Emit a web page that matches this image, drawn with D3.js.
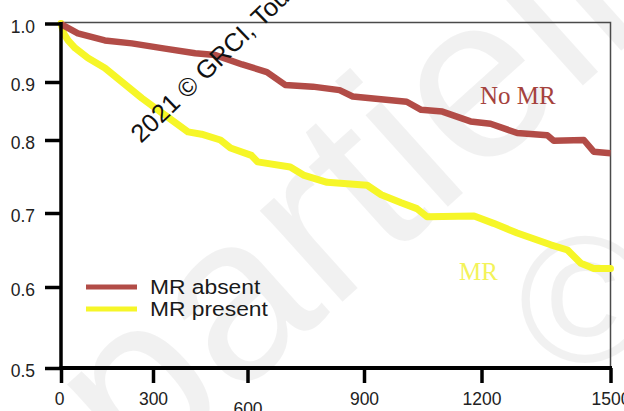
<!DOCTYPE html>
<html>
<head>
<meta charset="utf-8">
<script src="https://cdn.jsdelivr.net/npm/d3@7"></script>
<style>
  html, body { margin: 0; padding: 0; background: #fff; }
  svg { display: block; }
</style>
</head>
<body>
<svg id="chart" width="624" height="411"></svg>
<script>
// Kaplan–Meier style survival curves (time in days)
const xTicks = [0, 300, 600, 900, 1200, 1500];
const yTicks = [0.5, 0.6, 0.7, 0.8, 0.9, 1.0];

const timeNoMR = [0, 55, 143, 231, 338, 434, 498, 583, 650, 697, 768, 837, 871, 1009, 1046, 1100, 1172, 1221, 1283, 1353, 1368, 1438, 1461, 1500];
const survNoMR = [0.999, 0.983, 0.971, 0.966, 0.957, 0.949, 0.946, 0.930, 0.917, 0.895, 0.892, 0.886, 0.875, 0.866, 0.852, 0.849, 0.832, 0.828, 0.812, 0.808, 0.799, 0.800, 0.784, 0.782];

const timeMR = [0, 4, 10, 23, 46, 88, 143, 199, 264, 338, 411, 454, 514, 546, 610, 626, 710, 744, 805, 908, 944, 995, 1035, 1061, 1181, 1228, 1283, 1361, 1400, 1431, 1461, 1500];
const survMR = [1.000, 0.992, 0.982, 0.971, 0.958, 0.941, 0.924, 0.900, 0.872, 0.843, 0.814, 0.810, 0.800, 0.789, 0.779, 0.770, 0.763, 0.752, 0.742, 0.738, 0.725, 0.714, 0.706, 0.695, 0.696, 0.686, 0.673, 0.657, 0.650, 0.632, 0.625, 0.625];

const seriesNames = ["MR absent", "MR present"];
const curveLabels = ["No MR", "MR"];

const RED = "#b24c47";
const YELLOW = "#f6f628";

const svg = d3.select("#chart");

// Axis scales with per-tick ranges (the printed axes are not evenly spaced)
const x = d3.scaleLinear().domain(xTicks).range([61, 153, 247.5, 364, 481.5, 610.5]);
const y = d3.scaleLinear().domain(yTicks).range([368, 287, 213, 140, 82, 23.5]);

// faint background stamp
const stamp = svg.append("g").attr("fill", "#000").attr("fill-opacity", 0.055)
  .attr("font-family", "Liberation Sans, Arial, sans-serif");
stamp.append("text")
  .attr("transform", "translate(138,486) rotate(-42)")
  .attr("font-size", 233)
  .text("partielle");
stamp.append("text")
  .attr("transform", "translate(585,362)")
  .attr("text-anchor", "middle")
  .attr("font-size", 180)
  .text("©");

// plot frame (thin top and right border)
svg.append("path")
  .attr("d", `M${x(0)},${y(1.0) - 1}H${x(1500)}V${y(0.5)}`)
  .attr("fill", "none")
  .attr("stroke", "#4a4a4a")
  .attr("stroke-width", 1.5);

// survival curves
const line = d3.line().x(d => x(d[0])).y(d => y(d[1])).curve(d3.curveLinear);
const noMR = timeNoMR.map((t, i) => [t, survNoMR[i]]);
const mr = timeMR.map((t, i) => [t, survMR[i]]);

svg.append("path").datum(mr)
  .attr("d", line)
  .attr("fill", "none")
  .attr("stroke", YELLOW)
  .attr("stroke-width", 7)
  .attr("stroke-linejoin", "round")
  .attr("stroke-linecap", "round")
  .style("filter", "blur(0.6px)");

svg.append("path").datum(noMR)
  .attr("d", line)
  .attr("fill", "none")
  .attr("stroke", RED)
  .attr("stroke-width", 6.5)
  .attr("stroke-linejoin", "round")
  .attr("stroke-linecap", "butt");

// axes
const tickFont = "Liberation Sans, Arial, sans-serif";
const yAxis = d3.axisLeft(y).tickValues(yTicks).tickFormat(d3.format(".1f")).tickSize(16).tickSizeOuter(0).tickPadding(10);
const gy = svg.append("g").attr("transform", `translate(${x(0)},0)`).call(yAxis);
gy.select(".domain").attr("stroke", "#000").attr("stroke-width", 3.5)
  .attr("d", `M0,${y(1.0) - 1.5}V${y(0.5) + 1.5}`);
gy.selectAll(".tick line").attr("stroke", "#000").attr("stroke-width", 3.5);
gy.selectAll(".tick text")
  .attr("font-family", tickFont)
  .attr("font-size", 17.5)
  .attr("fill", "#222")
  .attr("dy", "0.5em");

const xAxis = d3.axisBottom(x).tickValues(xTicks).tickFormat(d3.format("d")).tickSize(15).tickSizeOuter(0).tickPadding(10);
const gx = svg.append("g").attr("transform", `translate(0,${y(0.5)})`).call(xAxis);
gx.select(".domain").attr("stroke", "#000").attr("stroke-width", 4)
  .attr("d", `M${x(0) - 1.5},0H${x(1500) + 1.5}`);
gx.selectAll(".tick line").attr("stroke", "#000").attr("stroke-width", 3.5);
gx.selectAll(".tick text")
  .attr("font-family", tickFont)
  .attr("font-size", 17.5)
  .attr("fill", "#222")
  .attr("y", d => d === 600 ? 35 : 25)
  .attr("dy", "0.71em");
gx.selectAll(".tick").filter(d => d === 0).select("text").attr("dx", -2);

// legend
const legend = svg.append("g");
[RED, YELLOW].forEach((c, i) => {
  const yy = 287 + i * 22;
  legend.append("line")
    .attr("x1", 86).attr("x2", 137).attr("y1", yy).attr("y2", yy)
    .attr("stroke", c).attr("stroke-width", 5);
  legend.append("text")
    .attr("transform", `translate(150,${yy + 7}) scale(1.17,1)`)
    .attr("font-family", tickFont)
    .attr("font-size", 19.5)
    .attr("fill", "#1a1a1a")
    .text(seriesNames[i]);
});

// in-plot curve labels
svg.append("text")
  .attr("x", 480).attr("y", 104)
  .attr("font-family", "Liberation Serif, Times New Roman, serif")
  .attr("font-size", 25)
  .attr("fill", "#a5423d")
  .text(curveLabels[0]);
svg.append("text")
  .attr("x", 459).attr("y", 280)
  .attr("font-family", "Liberation Serif, Times New Roman, serif")
  .attr("font-size", 25)
  .attr("fill", "#f3f35a")
  .text(curveLabels[1]);

// copyright line
svg.append("text")
  .attr("transform", "translate(141,144) rotate(-44)")
  .attr("font-family", tickFont)
  .attr("font-size", 25.5)
  .attr("fill", "#111")
  .text("2021 © GRCI, Tous droits réservés");
</script>
</body>
</html>
